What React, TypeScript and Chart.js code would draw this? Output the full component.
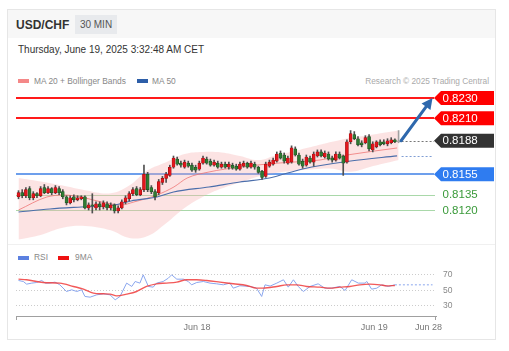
import React, { useEffect, useRef } from "react";
import { Chart, registerables } from "chart.js";
Chart.register(...registerables);

const FONT = '"Liberation Sans", Arial, Helvetica, sans-serif';

// ---- candles (30 min), index 0 = Jun 17 00:00 ----
const candleOpen = [
  0.8133, 0.8137, 0.8134, 0.8141, 0.8132, 0.8136, 0.8134, 0.8142, 0.8137, 0.8141,
  0.8137, 0.8141, 0.8138, 0.8133, 0.8127, 0.8133, 0.8130, 0.8131, 0.8133, 0.8122,
  0.8125, 0.8122, 0.8126, 0.8123, 0.8126, 0.8122, 0.8125, 0.8119, 0.8122, 0.8128,
  0.8131, 0.8136, 0.8141, 0.8135, 0.8140, 0.8155, 0.8142, 0.8138, 0.8137, 0.8147,
  0.8151, 0.8154, 0.8162, 0.8170, 0.8166, 0.8162, 0.8166, 0.8164, 0.8162, 0.8160,
  0.8166, 0.8170, 0.8168, 0.8164, 0.8166, 0.8162, 0.8165, 0.8162, 0.8164, 0.8163,
  0.8160, 0.8163, 0.8166, 0.8162, 0.8165, 0.8162, 0.8158, 0.8153, 0.8163, 0.8165,
  0.8168, 0.8176, 0.8174, 0.8166, 0.8167, 0.8180, 0.8174, 0.8168, 0.8164, 0.8171,
  0.8167, 0.8173, 0.8177, 0.8172, 0.8175, 0.8171, 0.8169, 0.8175, 0.8173, 0.8167,
  0.8187, 0.8194, 0.8190, 0.8186, 0.8186, 0.8192, 0.8179, 0.8182, 0.8187, 0.8187,
  0.8185, 0.8186, 0.8189, 0.8187,
];
const candleClose = [
  0.8137, 0.8134, 0.8140, 0.8132, 0.8136, 0.8134, 0.8141, 0.8137, 0.8141, 0.8137,
  0.8142, 0.8137, 0.8133, 0.8127, 0.8132, 0.8130, 0.8132, 0.8133, 0.8122, 0.8125,
  0.8124, 0.8126, 0.8123, 0.8127, 0.8122, 0.8125, 0.8119, 0.8122, 0.8128, 0.8132,
  0.8136, 0.8140, 0.8135, 0.8140, 0.8155, 0.8140, 0.8138, 0.8133, 0.8148, 0.8151,
  0.8155, 0.8162, 0.8171, 0.8165, 0.8164, 0.8167, 0.8163, 0.8159, 0.8159, 0.8166,
  0.8171, 0.8166, 0.8164, 0.8167, 0.8162, 0.8165, 0.8162, 0.8165, 0.8161, 0.8160,
  0.8165, 0.8166, 0.8162, 0.8166, 0.8162, 0.8157, 0.8152, 0.8165, 0.8167, 0.8169,
  0.8175, 0.8171, 0.8168, 0.8171, 0.8181, 0.8174, 0.8165, 0.8163, 0.8172, 0.8167,
  0.8175, 0.8177, 0.8173, 0.8176, 0.8170, 0.8169, 0.8175, 0.8171, 0.8166, 0.8187,
  0.8195, 0.8190, 0.8184, 0.8184, 0.8191, 0.8180, 0.8185, 0.8187, 0.8184, 0.8185,
  0.8188, 0.8189, 0.8187, 0.8188,
];
const candleHigh = [
  0.8139, 0.8140, 0.8142, 0.8143, 0.8138, 0.8137, 0.8143, 0.8145, 0.8143, 0.8142,
  0.8144, 0.8143, 0.8140, 0.8134, 0.8134, 0.8135, 0.8134, 0.8134, 0.8134, 0.8127,
  0.8136, 0.8128, 0.8128, 0.8129, 0.8128, 0.8127, 0.8126, 0.8124, 0.8130, 0.8134,
  0.8138, 0.8142, 0.8143, 0.8142, 0.8164, 0.8157, 0.8144, 0.8140, 0.8150, 0.8153,
  0.8157, 0.8164, 0.8173, 0.8172, 0.8168, 0.8169, 0.8168, 0.8166, 0.8164, 0.8168,
  0.8173, 0.8172, 0.8170, 0.8169, 0.8168, 0.8167, 0.8167, 0.8167, 0.8166, 0.8165,
  0.8167, 0.8168, 0.8167, 0.8168, 0.8167, 0.8163, 0.8159, 0.8167, 0.8169, 0.8171,
  0.8177, 0.8178, 0.8176, 0.8173, 0.8183, 0.8182, 0.8176, 0.8170, 0.8174, 0.8173,
  0.8177, 0.8179, 0.8179, 0.8178, 0.8177, 0.8173, 0.8177, 0.8177, 0.8174, 0.8189,
  0.8198, 0.8197, 0.8192, 0.8188, 0.8193, 0.8194, 0.8187, 0.8188, 0.8189, 0.8189,
  0.8190, 0.8191, 0.8190, 0.8198,
];
const candleLow = [
  0.8131, 0.8132, 0.8132, 0.8130, 0.8130, 0.8132, 0.8133, 0.8136, 0.8136, 0.8135,
  0.8136, 0.8135, 0.8131, 0.8125, 0.8126, 0.8128, 0.8129, 0.8130, 0.8121, 0.8120,
  0.8117, 0.8120, 0.8120, 0.8121, 0.8120, 0.8120, 0.8117, 0.8117, 0.8121, 0.8126,
  0.8129, 0.8134, 0.8134, 0.8134, 0.8138, 0.8138, 0.8136, 0.8130, 0.8135, 0.8145,
  0.8147, 0.8153, 0.8161, 0.8164, 0.8162, 0.8161, 0.8162, 0.8158, 0.8157, 0.8159,
  0.8165, 0.8165, 0.8163, 0.8163, 0.8161, 0.8161, 0.8161, 0.8160, 0.8160, 0.8159,
  0.8159, 0.8162, 0.8161, 0.8161, 0.8160, 0.8156, 0.8150, 0.8152, 0.8162, 0.8164,
  0.8167, 0.8170, 0.8166, 0.8165, 0.8166, 0.8173, 0.8164, 0.8161, 0.8163, 0.8166,
  0.8163, 0.8172, 0.8172, 0.8171, 0.8169, 0.8167, 0.8168, 0.8170, 0.8154, 0.8166,
  0.8185, 0.8189, 0.8183, 0.8182, 0.8185, 0.8178, 0.8177, 0.8181, 0.8183, 0.8184,
  0.8183, 0.8185, 0.8186, 0.8186,
];

// ---- Bollinger bands (MA20 ± 2σ) sampled at candle index ----
const bandIndex = [0, 6, 12, 18, 25, 30, 35, 40, 45, 50, 55, 60, 65, 70, 75, 80, 85, 90, 95, 103];
const bandUpper = [
  0.81514, 0.8148, 0.8144, 0.81395, 0.81365, 0.8144, 0.8159, 0.8167, 0.8175, 0.8177,
  0.81765, 0.8173, 0.8169, 0.8174, 0.8178, 0.81825, 0.8187, 0.8191, 0.81935, 0.8198,
];
const bandLower = [
  0.8091, 0.80955, 0.81025, 0.81043, 0.8100, 0.80925, 0.80945, 0.8107, 0.8122, 0.8133,
  0.8141, 0.8147, 0.8153, 0.81565, 0.81585, 0.8160, 0.81605, 0.81575, 0.8162, 0.8169,
];
const ma20Index = [0, 7.7, 12.3, 16.9, 22.4, 27.8, 31.3, 37.5, 42.1, 45.7, 51.6, 60, 70.9, 81.7, 89, 102.6];
const ma20Value = [
  0.8120, 0.81328, 0.81347, 0.81328, 0.81279, 0.81249, 0.81279, 0.81347, 0.81426, 0.81514,
  0.81573, 0.81622, 0.81662, 0.81691, 0.8174, 0.81809,
];
const ma50Index = [0, 8.5, 17, 26, 30.5, 37.5, 42, 51.6, 60, 68, 77, 90, 102.6];
const ma50Value = [
  0.8118, 0.8121, 0.8123, 0.81249, 0.81289, 0.81328, 0.81377, 0.81426, 0.81475, 0.81514,
  0.81603, 0.81681, 0.81731,
];

// ---- price levels ----
const levelValues = [0.8230, 0.8210, 0.8188, 0.8155, 0.8135, 0.8120];
const levelLabels = ["0.8230", "0.8210", "0.8188", "0.8155", "0.8135", "0.8120"];
const levelKinds = ["resistance", "resistance", "last", "pivot", "support", "support"];
const targetIndex = 112.2; // arrow tip (future)

// ---- RSI panel ----
const rsiIndex = [
  0, 1.3, 2.2, 3.6, 4.9, 6.3, 7.2, 8.5, 9.9, 11.2, 13, 14.4, 15.8, 17.1, 18, 19.4, 21.2, 23, 24.8, 26.2,
  27.5, 29.3, 30.7, 31.6, 32.9, 33.8, 35.2, 36.5, 37.4, 39.2, 40.6, 41.5, 42.9, 44.7, 46, 46.9, 48.3, 50.1, 51.9, 53.7,
  55.5, 57.3, 58.2, 60, 62.7, 64.5, 65.9, 66.8, 68.2, 70, 71.8, 73.1, 74.5, 75.8, 77.2, 79, 81.2, 83, 84.8, 87.1,
  88.5, 90.3, 92.1, 93.9, 94.4, 95.7, 97.1, 98.4, 100.2, 102,
];
const rsiValue = [
  62.9, 61.6, 58.2, 59.5, 60.3, 62.9, 59.5, 59.5, 60.8, 57.3, 48.7, 50.9, 48.7, 50.9, 42.3, 41.4, 44.4, 45.7, 44.4, 38,
  42.3, 59.5, 55.2, 61.6, 59.5, 70.2, 55.2, 54.3, 59.5, 61.6, 65.9, 70.2, 64.6, 64.6, 61.6, 57.3, 60.3, 61.6, 59.5, 58.6,
  57.3, 59.5, 53, 56.1, 55.2, 53, 42.3, 57.3, 55.7, 59.5, 63.8, 54.3, 63.8, 55.2, 48.7, 55.2, 58.6, 53, 53, 55.2,
  50, 63.8, 59.5, 59.5, 61.6, 51.7, 53, 57.3, 55.2, 57.3,
];
const ma9Index = [
  0, 2.2, 6.7, 11.2, 14.9, 17.6, 20.3, 23, 24.8, 26.6, 29.3, 32, 34.7, 37.4, 40.1, 42.9, 45.6, 48.3, 51,
  54.6, 58.2, 61.8, 64.5, 66.3, 70, 72.7, 75.4, 78.1, 81.7, 84.4, 87.1, 89.8, 92.5, 95.2, 98, 99.8, 102,
];
const ma9Value = [
  64.6, 63.8, 60.3, 59.5, 55.2, 51.7, 46.6, 45.7, 45.3, 43.1, 45.3, 48.7, 55.2, 58.6, 59.5, 60.8, 63.8, 63.8, 62.9,
  60.8, 58.6, 56.5, 53, 53, 55.2, 57.3, 57.3, 55.2, 54.3, 53, 54.3, 55.2, 57.3, 58.2, 57.3, 56, 56.5,
];
const rsiTicks = [30, 50, 70];
const xTickIndex = [48.4, 96.4, 111.1];
const xTickLabels = ["Jun 18", "Jun 19", "Jun 28"];

// ---- shared scale ranges ----
const X_MIN = -0.68;
const X_MAX = 113.14;
const P_MIN = 0.80866;
const P_MAX = 0.82398;
const RSI_MIN = 17.1;
const RSI_MAX = 79.0;

const levelStyle: Record<string, any> = {
  resistance: { line: "#ff1a1a", width: 2, box: "#ff0000", text: "#ffffff", end: 434 },
  last: { line: "#777777", width: 1, dash: [2, 2], box: "#333333", text: "#ffffff", end: 434 },
  pivot: { line: "#3d7fe6", width: 1.5, box: "#2f7cf0", text: "#ffffff", end: 434 },
  support: { line: "#a9d8a9", width: 1, box: null, text: "#3a9a3a", end: 435 },
};

function PriceChart() {
  const ref = useRef<HTMLCanvasElement>(null);
  useEffect(() => {
    const idx = candleOpen.map((_, i) => i);
    const last = idx.length - 1;
    const up = (i: number) => candleClose[i] >= candleOpen[i];
    const bodyFill = idx.map((i) => (i === last ? "#b5b5b5" : up(i) ? "#e3161c" : "#2f7a33"));
    const bodyBorder = idx.map((i) => (i === last ? "#9a9a9a" : up(i) ? "#9c0c0f" : "#1c4f20"));
    const wickColor = idx.map((i) => (i === last ? "#a0a0a0" : "#505050"));

    const levelsPlugin = {
      id: "levels",
      beforeDatasetsDraw(chart: any) {
        const { ctx, chartArea, scales } = chart;
        const y = scales.y;
        const x = scales.x;
        levelValues.forEach((v, k) => {
          const st = levelStyle[levelKinds[k]];
          const py = Math.round(y.getPixelForValue(v)) + (st.width % 2 === 1 ? 0.5 : 0);
          const startX = levelKinds[k] === "last" ? x.getPixelForValue(last) + 3 : chartArea.left;
          ctx.save();
          ctx.strokeStyle = st.line;
          ctx.lineWidth = st.width;
          if (st.dash) ctx.setLineDash(st.dash);
          ctx.beginPath();
          ctx.moveTo(startX, py);
          ctx.lineTo(st.end, py);
          ctx.stroke();
          ctx.restore();
        });
        // MA50 projection (dotted)
        const pyMa = Math.round(y.getPixelForValue(ma50Value[ma50Value.length - 1])) + 0.5;
        ctx.save();
        ctx.strokeStyle = "#7f9dd4";
        ctx.lineWidth = 1;
        ctx.setLineDash([2, 2]);
        ctx.beginPath();
        ctx.moveTo(x.getPixelForValue(last) + 3, pyMa);
        ctx.lineTo(433, pyMa);
        ctx.stroke();
        ctx.restore();
      },
      afterDraw(chart: any) {
        const { ctx, scales } = chart;
        const y = scales.y;
        const x = scales.x;
        // arrow
        const x0 = x.getPixelForValue(last) + 2.5;
        const y0 = y.getPixelForValue(candleClose[last]);
        const x1 = x.getPixelForValue(targetIndex);
        const y1 = y.getPixelForValue(levelValues[0]);
        const ang = Math.atan2(y1 - y0, x1 - x0);
        const head = 11;
        const bx = x1 - head * Math.cos(ang);
        const by = y1 - head * Math.sin(ang);
        ctx.save();
        ctx.strokeStyle = "#2e68ad";
        ctx.fillStyle = "#2e68ad";
        ctx.lineWidth = 3;
        ctx.lineCap = "round";
        ctx.beginPath();
        ctx.moveTo(x0, y0);
        ctx.lineTo(bx, by);
        ctx.stroke();
        ctx.beginPath();
        ctx.moveTo(x1, y1);
        ctx.lineTo(bx + 5.5 * Math.sin(ang), by - 5.5 * Math.cos(ang));
        ctx.lineTo(bx - 5.5 * Math.sin(ang), by + 5.5 * Math.cos(ang));
        ctx.closePath();
        ctx.fill();
        ctx.restore();
        // level labels
        levelValues.forEach((v, k) => {
          const st = levelStyle[levelKinds[k]];
          const py = y.getPixelForValue(v);
          ctx.save();
          if (st.box) {
            ctx.fillStyle = st.box;
            ctx.beginPath();
            ctx.moveTo(434, py);
            ctx.lineTo(441, py - 7);
            ctx.lineTo(494, py - 7);
            ctx.lineTo(494, py + 7);
            ctx.lineTo(441, py + 7);
            ctx.closePath();
            ctx.fill();
          }
          ctx.fillStyle = st.text;
          ctx.font = `11.5px ${FONT}`;
          ctx.textBaseline = "middle";
          ctx.textAlign = "left";
          ctx.fillText(levelLabels[k], 442.5, py + 0.5);
          ctx.restore();
        });
      },
    };

    const chart = new Chart(ref.current as HTMLCanvasElement, {
      type: "bar",
      data: {
        datasets: [
          {
            type: "line",
            data: bandIndex.map((xv, i) => ({ x: xv, y: bandUpper[i] })),
            borderWidth: 0,
            borderColor: "rgba(0,0,0,0)",
            pointRadius: 0,
            fill: "+1",
            backgroundColor: "rgba(248,178,178,0.36)",
            tension: 0.4,
            order: 6,
          } as any,
          {
            type: "line",
            data: bandIndex.map((xv, i) => ({ x: xv, y: bandLower[i] })),
            borderWidth: 0,
            borderColor: "rgba(0,0,0,0)",
            pointRadius: 0,
            fill: false,
            tension: 0.4,
            order: 6,
          } as any,
          {
            type: "line",
            data: ma50Index.map((xv, i) => ({ x: xv, y: ma50Value[i] })),
            borderColor: "#4b6eab",
            borderWidth: 1.1,
            pointRadius: 0,
            fill: false,
            cubicInterpolationMode: "monotone",
            order: 4,
          } as any,
          {
            type: "line",
            data: ma20Index.map((xv, i) => ({ x: xv, y: ma20Value[i] })),
            borderColor: "rgba(238,112,112,0.75)",
            borderWidth: 1,
            pointRadius: 0,
            fill: false,
            cubicInterpolationMode: "monotone",
            order: 4,
          } as any,
          {
            type: "bar",
            data: idx.map((i) => ({ x: i, y: [candleLow[i], candleHigh[i]] })),
            backgroundColor: wickColor,
            borderWidth: 0,
            barThickness: 1,
            grouped: false,
            order: 2,
          } as any,
          {
            type: "bar",
            data: idx.map((i) => ({ x: i, y: [candleOpen[i], candleClose[i]] })),
            backgroundColor: bodyFill,
            borderColor: bodyBorder,
            borderWidth: 0.6,
            borderSkipped: false,
            barThickness: 3,
            grouped: false,
            order: 1,
          } as any,
        ],
      },
      options: {
        animation: false,
        responsive: false,
        maintainAspectRatio: false,
        events: [],
        layout: { padding: { left: 16, right: 73, top: 0, bottom: 0 } },
        plugins: { legend: { display: false }, tooltip: { enabled: false } },
        scales: {
          x: { type: "linear", min: X_MIN, max: X_MAX, display: false, offset: false },
          y: { type: "linear", min: P_MIN, max: P_MAX, display: false, beginAtZero: false },
        },
      } as any,
      plugins: [levelsPlugin],
    });
    return () => chart.destroy();
  }, []);
  return (
    <canvas
      ref={ref}
      width={509}
      height={156}
      style={{ position: "absolute", left: 0, top: 88, width: 509, height: 156 }}
    />
  );
}

function RsiChart() {
  const ref = useRef<HTMLCanvasElement>(null);
  useEffect(() => {
    const endTicks = {
      id: "endTicks",
      afterDraw(chart: any) {
        const { ctx, chartArea } = chart;
        ctx.save();
        ctx.strokeStyle = "#a0a0a0";
        ctx.lineWidth = 1;
        ctx.beginPath();
        ctx.moveTo(chartArea.left + 0.5, chartArea.bottom);
        ctx.lineTo(chartArea.left + 0.5, chartArea.bottom + 4);
        ctx.moveTo(chartArea.right - 0.5, chartArea.bottom);
        ctx.lineTo(chartArea.right - 0.5, chartArea.bottom + 4);
        ctx.stroke();
        ctx.restore();
      },
    };
    const lastIdx = rsiIndex[rsiIndex.length - 1];
    const lastRsi = rsiValue[rsiValue.length - 1];
    const chart = new Chart(ref.current as HTMLCanvasElement, {
      type: "line",
      data: {
        datasets: [
          {
            data: ma9Index.map((xv, i) => ({ x: xv, y: ma9Value[i] })),
            borderColor: "rgba(240,60,60,0.85)",
            borderWidth: 1.4,
            pointRadius: 0,
            cubicInterpolationMode: "monotone",
            order: 1,
          },
          {
            data: rsiIndex.map((xv, i) => ({ x: xv, y: rsiValue[i] })),
            borderColor: "#8aa6ee",
            borderWidth: 1,
            pointRadius: 0,
            tension: 0,
            order: 2,
          },
          {
            data: [
              { x: lastIdx, y: lastRsi },
              { x: targetIndex, y: lastRsi },
            ],
            borderColor: "#8aa6ee",
            borderWidth: 1,
            borderDash: [2, 2],
            pointRadius: 0,
            order: 3,
          },
        ],
      },
      options: {
        animation: false,
        responsive: false,
        maintainAspectRatio: false,
        events: [],
        layout: { padding: { left: 16, right: 0, top: 6, bottom: 0 } },
        plugins: { legend: { display: false }, tooltip: { enabled: false } },
        scales: {
          x: {
            type: "linear",
            min: X_MIN,
            max: X_MAX,
            offset: false,
            grid: { display: false, drawTicks: false },
            border: { display: true, color: "#a0a0a0", width: 1 },
            ticks: {
              padding: 6,
              color: "#777",
              font: { size: 9, family: FONT },
              autoSkip: false,
              maxRotation: 0,
              callback: (_v: any, i: number) => xTickLabels[i],
            },
            afterBuildTicks: (s: any) => {
              s.ticks = xTickIndex.map((value) => ({ value }));
            },
            afterFit: (s: any) => {
              s.height = 18;
            },
          },
          y: {
            type: "linear",
            position: "right",
            min: RSI_MIN,
            max: RSI_MAX,
            grid: {
              color: "#cccccc",
              drawTicks: true,
              tickLength: 7,
              tickColor: "rgba(0,0,0,0)",
              lineWidth: 1,
            },
            border: { display: false, dash: [1, 2] },
            ticks: { padding: 0, color: "#888", font: { size: 8.5, family: FONT } },
            afterBuildTicks: (s: any) => {
              s.ticks = rsiTicks.map((value) => ({ value }));
            },
            afterFit: (s: any) => {
              s.width = 73;
            },
          },
        },
      } as any,
      plugins: [endTicks],
    });
    return () => chart.destroy();
  }, []);
  return (
    <canvas
      ref={ref}
      width={509}
      height={72}
      style={{ position: "absolute", left: 0, top: 262, width: 509, height: 72 }}
    />
  );
}

const abs = (s: React.CSSProperties): React.CSSProperties => ({ position: "absolute", ...s });

export default function App() {
  return (
    <div style={{ fontFamily: FONT }}>
      <div
        style={abs({
          left: 7,
          top: 9,
          width: 489,
          height: 331,
          border: "1px solid #e6e6e6",
          boxSizing: "border-box",
          background: "#fff",
        })}
      />
      <div style={abs({ left: 8, top: 10, width: 487, height: 28, background: "#f7f7f7" })} />
      <div style={abs({ left: 16, top: 18, fontSize: 12, lineHeight: "14px", fontWeight: "bold", color: "#333" })}>
        USD/CHF
      </div>
      <div
        style={abs({
          left: 75,
          top: 15,
          width: 42,
          height: 19,
          background: "#e8eaed",
          color: "#555",
          fontSize: 10,
          lineHeight: "19px",
          textAlign: "center",
        })}
      >
        30 MIN
      </div>
      <div style={abs({ left: 18, top: 44, fontSize: 10, lineHeight: "12px", color: "#333", whiteSpace: "nowrap" })}>
        Thursday, June 19, 2025 3:32:48 AM CET
      </div>

      {/* price legend */}
      <div style={abs({ left: 18, top: 79, width: 11, height: 4, background: "#f48888" })} />
      <div style={abs({ left: 34, top: 75.5, fontSize: 8.4, lineHeight: "10px", color: "#888", whiteSpace: "nowrap" })}>
        MA 20 + Bollinger Bands
      </div>
      <div style={abs({ left: 137, top: 79, width: 11, height: 4, background: "#2d5ea8" })} />
      <div style={abs({ left: 152, top: 75.5, fontSize: 8.4, lineHeight: "10px", color: "#888", whiteSpace: "nowrap" })}>
        MA 50
      </div>
      <div
        style={abs({
          left: 289,
          width: 200,
          top: 75.5,
          fontSize: 8.3,
          lineHeight: "10px",
          color: "#aaa",
          textAlign: "right",
          whiteSpace: "nowrap",
        })}
      >
        Research © 2025 Trading Central
      </div>

      <PriceChart />

      <div style={abs({ left: 8, top: 244, width: 487, height: 1, background: "#f0f0f0" })} />

      {/* RSI legend */}
      <div style={abs({ left: 18, top: 255.5, width: 11, height: 4, background: "#5b80e0" })} />
      <div style={abs({ left: 34, top: 252.2, fontSize: 8.4, lineHeight: "10px", color: "#888" })}>RSI</div>
      <div style={abs({ left: 58, top: 255.5, width: 11, height: 4, background: "#ee1111" })} />
      <div style={abs({ left: 75, top: 252.2, fontSize: 8.4, lineHeight: "10px", color: "#888" })}>9MA</div>

      <RsiChart />
    </div>
  );
}
